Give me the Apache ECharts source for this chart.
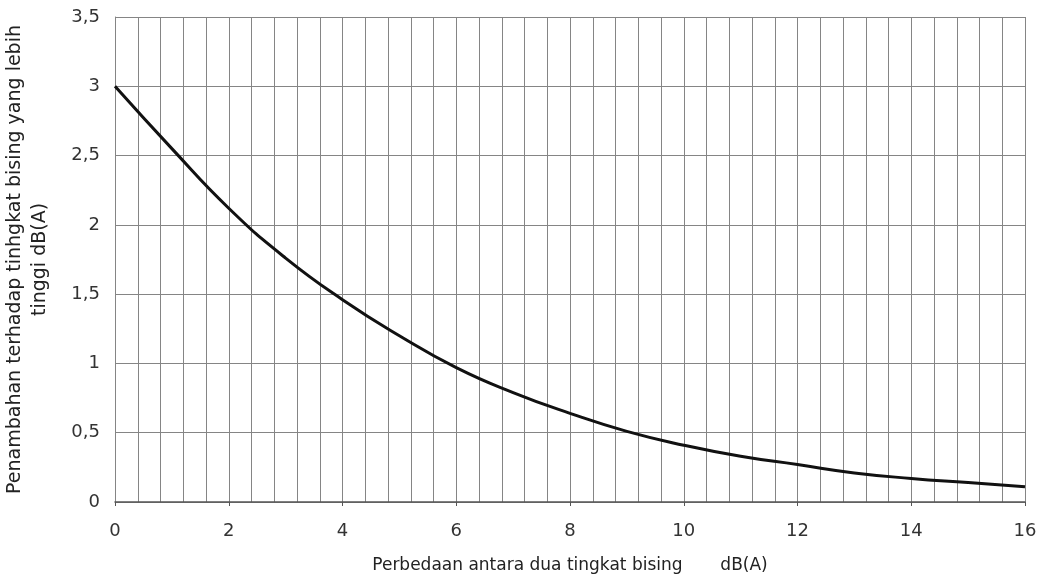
<!DOCTYPE html>
<html>
<head>
<meta charset="utf-8">
<style>
    html, body { margin: 0; padding: 0; background: #fff; }
    #chart { width: 1037px; height: 578px; }
</style>
<script src="https://cdn.jsdelivr.net/npm/echarts@6/dist/echarts.min.js"></script>
</head>
<body>
<div id="chart"></div>
<script>
    // selisih dua tingkat bising, dB(A)
    var selisih = [0, 1, 2, 3, 4, 5, 6, 7, 8, 9, 10, 11, 12, 13, 14, 15, 16];
    // penambahan terhadap tingkat yang lebih tinggi, dB(A)
    var penambahan = [3.0, 2.55, 2.12, 1.76, 1.46, 1.2, 0.97, 0.79, 0.64, 0.51, 0.41, 0.33, 0.27, 0.21, 0.17, 0.14, 0.11];

    var gridColor = '#858585';
    var font = 'DejaVu Sans, sans-serif';

    var myChart = echarts.init(document.getElementById('chart'));
    var option = {
        backgroundColor: '#fff',
        animation: false,
        grid: {
            left: 115,
            right: 12,
            top: 17,
            bottom: 76,
            containLabel: false,
            outerBoundsMode: 'none'
        },
        xAxis: {
            type: 'value',
            min: 0,
            max: 16,
            interval: 2,
            name: 'Perbedaan antara dua tingkat bising       dB(A)',
            nameLocation: 'middle',
            nameGap: 55,
            nameTextStyle: { color: '#222', fontSize: 17, fontFamily: font },
            axisLine: { show: true, lineStyle: { color: '#555', width: 1.5 } },
            axisTick: { show: true, length: 4, lineStyle: { color: '#555' } },
            axisLabel: { color: '#333', fontSize: 18, fontFamily: font, margin: 20 },
            splitLine: { show: true, lineStyle: { color: gridColor, width: 1 } },
            minorTick: { show: false, splitNumber: 5 },
            minorSplitLine: { show: true, lineStyle: { color: gridColor, width: 1 } }
        },
        yAxis: {
            type: 'value',
            min: 0,
            max: 3.5,
            interval: 0.5,
            name: 'Penambahan terhadap tinhgkat bising yang lebih\ntinggi dB(A)',
            nameLocation: 'middle',
            nameRotate: 90,
            nameGap: 62,
            nameTextStyle: { color: '#222', fontSize: 19, fontFamily: font, lineHeight: 25 },
            axisLine: { show: true, lineStyle: { color: gridColor } },
            axisTick: { show: false },
            axisLabel: {
                color: '#333',
                fontSize: 18,
                fontFamily: font,
                margin: 15,
                formatter: function(v) {
                    return String(v).replace('.', ',');
                }
            },
            splitLine: { show: true, lineStyle: { color: gridColor, width: 1.2 } }
        },
        series: [{
            type: 'line',
            smooth: true,
            symbol: 'none',
            data: selisih.map(function(x, i) { return [x, penambahan[i]]; }),
            lineStyle: { color: '#111', width: 3 }
        }]
    };
    myChart.setOption(option);
</script>
</body>
</html>
